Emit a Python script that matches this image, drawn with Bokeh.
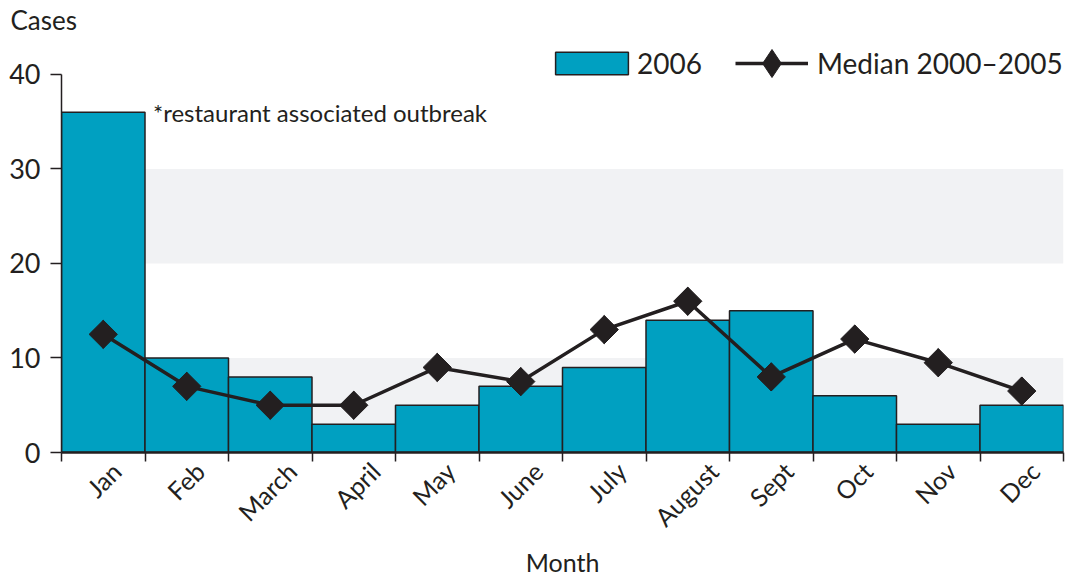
from math import pi, sqrt
from bokeh.plotting import figure
from bokeh.models import (Range1d, FixedTicker, BoxAnnotation, Label, Legend, LegendItem, Title)
from bokeh.embed import file_html
from bokeh.resources import INLINE

months = ["Jan", "Feb", "March", "April", "May", "June", "July", "August",
          "Sept", "Oct", "Nov", "Dec"]
cases_2006 = [36, 10, 8, 3, 5, 7, 9, 14, 15, 6, 3, 5]
median_2000_2005 = [12.5, 7, 5, 5, 9, 7.5, 13, 16, 8, 12, 9.5, 6.5]
y_ticks = [0, 10, 20, 30, 40]
note = "*restaurant associated outbreak"

FONT = "Lato"
INK = "#231f20"
TEAL = "#00a0c1"
BAND = "#f1f2f4"

n = len(months)
centers = [i + 0.5 for i in range(n)]
edges = list(range(n + 1))

W, H = 1065, 580
LEFT, RIGHT, TOP, BOTTOM = 61, 2, 35, 127
px_x = (W - LEFT - RIGHT) / n
# rotated labels are right-aligned by Bokeh; shift each so that the rotated
# label is centred under its bar (as in the reference)
label_pos = [round(c + ((12 * len(m) + 18) / (2 * sqrt(2)) - 6) / px_x, 4)
             for c, m in zip(centers, months)]

PX_PER_UNIT = 9.475
y_end = y_ticks[-1] + (74 - TOP) / PX_PER_UNIT

p = figure(width=W, height=H, output_backend="svg", toolbar_location=None,
           x_range=Range1d(0, n), y_range=Range1d(0, y_end),
           min_border_left=LEFT, min_border_right=RIGHT, min_border_top=TOP,
           min_border_bottom=BOTTOM)
p.outline_line_color = None
p.background_fill_color = "white"
p.xgrid.visible = False
p.ygrid.visible = False

p.title = Title(text="Cases", align="left", offset=-51, standoff=0,
                text_font=FONT, text_font_size="26px", text_font_style="normal",
                text_color=INK)

for lo in (0, 20):
    p.add_layout(BoxAnnotation(bottom=lo, top=lo + 10, fill_color=BAND,
                               fill_alpha=1, line_color=None, level="underlay"))

bars = p.vbar(x=centers, top=cases_2006, width=1, fill_color=TEAL,
              line_color=INK, line_width=1.5)
ln = p.line(x=centers, y=median_2000_2005, line_color=INK, line_width=3.5)
# diamond (used as the legend key, since legend glyphs are never rotated);
# it lies entirely inside the rotated square drawn on top of it
key = p.scatter(x=centers, y=median_2000_2005, marker="diamond", size=28,
                fill_color=INK, line_color=INK)
mk = p.scatter(x=centers, y=median_2000_2005, marker="square", size=20,
               angle=pi / 4, fill_color=INK, line_color=INK)

common = dict(orientation="horizontal", padding=0, margin=0,
              border_line_color=None, background_fill_alpha=0,
              label_text_font=FONT, label_text_font_size="28px",
              label_text_color=INK)
legend_bar = Legend(items=[LegendItem(label="2006", renderers=[bars])],
                    location=(485, 372), glyph_width=91, glyph_height=28,
                    label_standoff=0, **common)
legend_med = Legend(items=[LegendItem(label="Median 2000\u20132005",
                                      renderers=[ln, key])],
                    location=(674, 354), glyph_width=73, glyph_height=70,
                    label_standoff=9, **common)
p.add_layout(legend_bar)
p.add_layout(legend_med)

# x axis
xa = p.xaxis[0]
xa.ticker = FixedTicker(ticks=label_pos, minor_ticks=edges)
xa.major_label_overrides = {c: m for c, m in zip(label_pos, months)}
xa.major_label_orientation = pi / 4
xa.major_tick_line_color = None
xa.minor_tick_line_color = INK
xa.minor_tick_line_width = 1.5
xa.minor_tick_out = 9
xa.minor_tick_in = 0
xa.axis_line_color = INK
xa.axis_line_width = 2.5
xa.major_label_text_font = FONT
xa.major_label_text_font_size = "25px"
xa.major_label_text_color = INK
xa.major_label_standoff = 5
xa.axis_label = "Month"
xa.axis_label_text_font = FONT
xa.axis_label_text_font_size = "25px"
xa.axis_label_text_font_style = "normal"
xa.axis_label_text_color = INK
xa.axis_label_standoff = 2

ya = p.yaxis[0]
ya.bounds = (y_ticks[0], y_ticks[-1])
ya.ticker = FixedTicker(ticks=y_ticks, minor_ticks=[])
ya.major_tick_line_color = INK
ya.major_tick_line_width = 1.5
ya.major_tick_out = 11
ya.major_tick_in = 0
ya.axis_line_color = INK
ya.axis_line_width = 1.5
ya.major_label_text_font = FONT
ya.major_label_text_font_size = "27px"
ya.major_label_text_color = INK
ya.major_label_standoff = 10

p.add_layout(Label(x=1, y=cases_2006[0], x_offset=8, y_offset=0, text=note,
                   text_font=FONT, text_font_size="24px",
                   text_color=INK, text_baseline="middle"))

open("out.html", "w").write(file_html(p, INLINE))
